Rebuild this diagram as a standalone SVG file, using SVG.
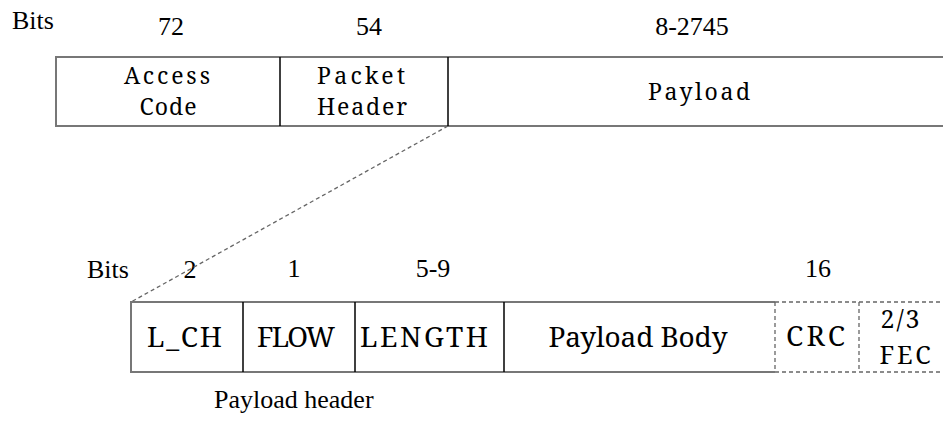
<svg xmlns="http://www.w3.org/2000/svg" width="943" height="425" viewBox="0 0 943 425">
<style>
.lbl{font-size:26px;fill:#000}
.tb{font-size:23px;fill:#000;text-anchor:middle}
.bb{font-size:28px;fill:#000;text-anchor:middle}
.sm{font-size:25px}
.num{text-anchor:middle}
.edge{stroke:#777;stroke-width:2;fill:none}
.div{stroke:#000;stroke-width:1.5}
.dash{stroke:#666;stroke-width:1.3;stroke-dasharray:4 3;fill:none}
</style>
<rect width="943" height="425" fill="#fff"/>
<g font-family="Liberation Serif, serif">
<g id="top-labels">
<text class="lbl" x="12" y="29">Bits</text>
<text class="lbl num" x="171" y="35">72</text>
<text class="lbl num" x="369" y="35">54</text>
<text class="lbl num" x="692" y="35">8-2745</text>
</g>
<g id="bottom-labels">
<text class="lbl" x="87" y="278">Bits</text>
<text class="lbl num" x="190" y="278">2</text>
<text class="lbl num" x="294" y="277">1</text>
<text class="lbl num" x="433" y="277">5-9</text>
<text class="lbl num" x="818" y="277">16</text>
</g>
<g id="caption">
<text class="lbl" x="214" y="408">Payload header</text>
</g>
</g>
<g id="top-frame">
<polyline class="edge" points="943,57 56,57 56,126 943,126"/>
</g>
<g id="connectors">
<line class="dash" x1="448" y1="126" x2="131" y2="302"/>
</g>
<g id="bottom-frame">
<polyline class="edge" points="775,302 131,302 131,372 775,372"/>
<line class="dash" x1="775" y1="302" x2="943" y2="302"/>
<line class="dash" x1="775" y1="372" x2="943" y2="372"/>
</g>
<g font-family="Noto Serif, Liberation Serif, serif">
<g id="access-code">
<line class="div" x1="280" y1="57" x2="280" y2="126"/>
<text class="tb" x="167" y="84" textLength="86" lengthAdjust="spacing">Access</text>
<text class="tb" x="168" y="115" textLength="57" lengthAdjust="spacing">Code</text>
</g>
<g id="packet-header">
<line class="div" x1="448" y1="57" x2="448" y2="126"/>
<text class="tb" x="361" y="84" textLength="88" lengthAdjust="spacing">Packet</text>
<text class="tb" x="362" y="115" textLength="90" lengthAdjust="spacing">Header</text>
</g>
<g id="payload">
<text class="tb" x="699" y="100" textLength="102" lengthAdjust="spacing">Payload</text>
</g>
<g id="l-ch">
<line class="div" x1="243" y1="302" x2="243" y2="372"/>
<text class="bb" x="184.5" y="347" textLength="75" lengthAdjust="spacing">L_CH</text>
</g>
<g id="flow">
<line class="div" x1="355" y1="302" x2="355" y2="372"/>
<text class="bb" x="296" y="347" textLength="78" lengthAdjust="spacing">FLOW</text>
</g>
<g id="length">
<line class="div" x1="504" y1="302" x2="504" y2="372"/>
<text class="bb" x="424" y="347" textLength="128" lengthAdjust="spacing">LENGTH</text>
</g>
<g id="payload-body">
<text class="bb" x="638" y="347" textLength="179" lengthAdjust="spacing">Payload Body</text>
</g>
<g id="crc">
<line class="dash" x1="775" y1="302" x2="775" y2="372"/>
<text class="bb" x="815.5" y="346" textLength="59" lengthAdjust="spacing">CRC</text>
</g>
<g id="fec">
<line class="dash" x1="859" y1="302" x2="859" y2="372"/>
<text class="bb sm" x="900" y="328" textLength="39" lengthAdjust="spacing">2/3</text>
<text class="bb sm" x="905" y="364" textLength="51" lengthAdjust="spacing">FEC</text>
</g>
</g>
</svg>
